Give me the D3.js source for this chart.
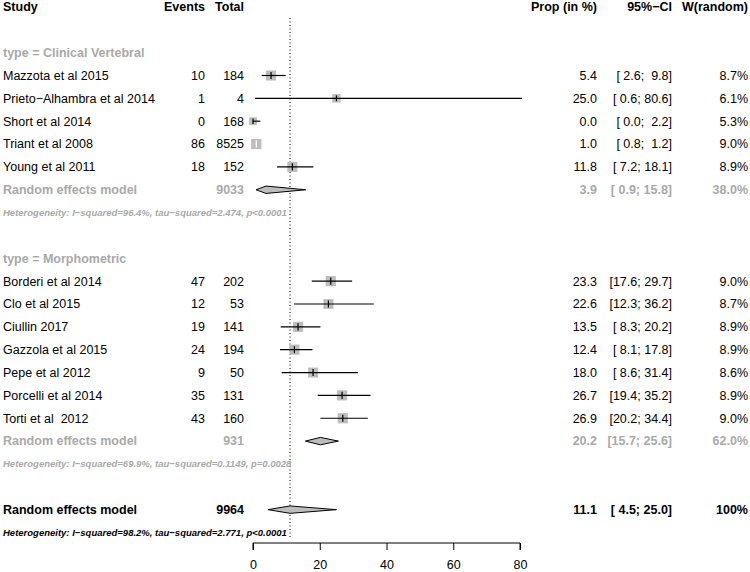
<!DOCTYPE html>
<html><head><meta charset="utf-8">
<script src="https://cdn.jsdelivr.net/npm/d3@7"></script>
<style>
html,body{margin:0;padding:0;background:#fff;}
svg text{font-family:"Liberation Sans",Arial,Helvetica,sans-serif;white-space:pre;}
</style></head>
<body>
<svg id="chart" width="750" height="572"></svg>
<script>
// ---- data ----
const groupLabels = ["type = Clinical Vertebral", "type = Morphometric"];
const studies = ["Mazzota et al 2015","Prieto\u2212Alhambra et al 2014","Short et al 2014","Triant et al 2008","Young et al 2011",
                 "Borderi et al 2014","Clo et al 2015","Ciullin 2017","Gazzola et al 2015","Pepe et al 2012","Porcelli et al 2014","Torti et al  2012"];
const studyGroup = [0,0,0,0,0,1,1,1,1,1,1,1];
const events = [10,1,0,86,18,47,12,19,24,9,35,43];
const totals = [184,4,168,8525,152,202,53,141,194,50,131,160];
const props  = [5.4,25.0,0.0,1.0,11.8,23.3,22.6,13.5,12.4,18.0,26.7,26.9];
const lowers = [2.6,0.6,0.0,0.8,7.2,17.6,12.3,8.3,8.1,8.6,19.4,20.2];
const uppers = [9.8,80.6,2.2,1.2,18.1,29.7,36.2,20.2,17.8,31.4,35.2,34.4];
const weights = [8.7,6.1,5.3,9.0,8.9,9.0,8.7,8.9,8.9,8.6,8.9,9.0];
const ciText = ["[ 2.6;  9.8]","[ 0.6; 80.6]","[ 0.0;  2.2]","[ 0.8;  1.2]","[ 7.2; 18.1]",
                "[17.6; 29.7]","[12.3; 36.2]","[ 8.3; 20.2]","[ 8.1; 17.8]","[ 8.6; 31.4]","[19.4; 35.2]","[20.2; 34.4]"];
// subgroup + overall random effects models
const poolLabels = ["Random effects model","Random effects model","Random effects model"];
const poolTotals = [9033, 931, 9964];
const poolProps  = [3.9, 20.2, 11.1];
const poolLowers = [0.9, 15.7, 4.5];
const poolUppers = [15.8, 25.6, 25.0];
const poolCI     = ["[ 0.9; 15.8]","[15.7; 25.6]","[ 4.5; 25.0]"];
const poolWeights = ["38.0%","62.0%","100%"];
const hetText = ["Heterogeneity: I\u2212squared=96.4%, tau\u2212squared=2.474, p<0.0001",
                 "Heterogeneity: I\u2212squared=69.9%, tau\u2212squared=0.1149, p=0.0028",
                 "Heterogeneity: I\u2212squared=98.2%, tau\u2212squared=2.771, p<0.0001"];
const xTicks = [0,20,40,60,80];
const headers = ["Study","Events","Total","Prop (in %)","95%\u2212CI","W(random)"];

// ---- layout ----
const svg = d3.select("#chart");
const grey = "#a9a9a9", boxFill = "#bdbdbd";
const fs = 12.5, fsHet = 9.5;
const x = d3.scaleLinear().domain([0,80]).range([253,520]);
const rowY = d3.scaleLinear().domain([0,1]).range([75.5, 75.5+22.85]);
const col = {study:3, events:205, total:244, prop:597, ci:672, w:748};

// row index assignment
const rows = [];
let r = -1;
groupLabels.forEach((g,gi)=>{
  rows.push({type:"group", gi, r:r}); r++;
  studies.forEach((s,i)=>{ if(studyGroup[i]===gi){ rows.push({type:"study", i, r}); r++; } });
  rows.push({type:"pool", pi:gi, r}); r++;
  rows.push({type:"het", pi:gi, r}); r++;
  r += 1; // blank
});
rows.push({type:"pool", pi:2, r:r}); r++;
rows.push({type:"het", pi:2, r:r});

// header
const hy = 6.5;
[[headers[0],col.study,"start"],[headers[1],col.events,"end"],[headers[2],col.total,"end"],
 [headers[3],col.prop,"end"],[headers[4],col.ci,"end"],[headers[5],col.w,"end"]].forEach(h=>{
  svg.append("text").attr("x",h[1]).attr("y",hy).attr("dy","0.35em").attr("text-anchor",h[2])
    .attr("font-size",fs).attr("font-weight","bold").text(h[0]);
});

// reference dotted line at overall estimate
svg.append("line").attr("x1",x(poolProps[2])).attr("x2",x(poolProps[2]))
  .attr("y1",18).attr("y2",537).attr("stroke","#000").attr("stroke-width",1).attr("stroke-dasharray","1,2.5");

function txt(xp, y, s, anchor, opts={}){
  return svg.append("text").attr("x",xp).attr("y",y).attr("dy","0.35em").attr("text-anchor",anchor)
    .attr("font-size",opts.size||fs).attr("font-weight",opts.bold?"bold":"normal")
    .attr("font-style",opts.italic?"italic":"normal").attr("fill",opts.fill||"#000").text(s);
}

rows.forEach(row=>{
  const y = rowY(row.r);
  if(row.type==="group"){
    txt(col.study,y,groupLabels[row.gi],"start",{bold:true,fill:grey});
  } else if(row.type==="study"){
    const i=row.i;
    txt(col.study,y,studies[i],"start");
    txt(col.events,y,String(events[i]),"end");
    txt(col.total,y,String(totals[i]),"end");
    txt(col.prop,y,props[i].toFixed(1),"end");
    txt(col.ci,y,ciText[i],"end");
    txt(col.w,y,weights[i].toFixed(1)+"%","end");
    const side = 3.4*Math.sqrt(weights[i]);
    const cx = x(props[i]);
    svg.append("rect").attr("x",cx-side/2).attr("y",y-side/2).attr("width",side).attr("height",side)
      .attr("fill",boxFill);
    const inside = x(lowers[i])>=cx-side/2 && x(uppers[i])<=cx+side/2;
    const lc = inside ? "#fff" : "#000";
    svg.append("line").attr("x1",x(lowers[i])).attr("x2",x(uppers[i])).attr("y1",y).attr("y2",y)
      .attr("stroke",lc).attr("stroke-width",1.2);
    svg.append("line").attr("x1",cx).attr("x2",cx).attr("y1",y-side*0.35).attr("y2",y+side*0.35)
      .attr("stroke",lc).attr("stroke-width",1.2);
  } else if(row.type==="pool"){
    const p=row.pi, overall = p===2;
    const f = overall ? "#000" : grey;
    txt(col.study,y,poolLabels[p],"start",{bold:true,fill:f});
    txt(col.total,y,String(poolTotals[p]),"end",{bold:true,fill:f});
    txt(col.prop,y,poolProps[p].toFixed(1),"end",{bold:true,fill:f});
    txt(col.ci,y,poolCI[p],"end",{bold:true,fill:f});
    txt(col.w,y,poolWeights[p],"end",{bold:true,fill:f});
    const h=3.7;
    const pts=[[x(poolLowers[p]),y],[x(poolProps[p]),y-h],[x(poolUppers[p]),y],[x(poolProps[p]),y+h]];
    svg.append("path").attr("d","M"+pts.map(d=>d.join(",")).join("L")+"Z")
      .attr("fill",boxFill).attr("stroke","#000").attr("stroke-width",1);
  } else if(row.type==="het"){
    const p=row.pi;
    txt(col.study,y,hetText[p],"start",{bold:true,italic:true,size:fsHet,fill:p===2?"#000":grey});
  }
});

// axis
const axisG = svg.append("g").attr("transform","translate(0,543)")
  .call(d3.axisBottom(x).tickValues(xTicks).tickSize(7).tickPadding(10).tickFormat(d3.format("d")));
axisG.select(".domain").attr("d",`M${x(0)},7V0H${x(80)}V7`).attr("stroke","#000");
axisG.selectAll(".tick line").attr("stroke","#000");
axisG.selectAll(".tick text").attr("font-size",fs).attr("fill","#000")
  .attr("font-family","Liberation Sans, Arial, sans-serif");
</script>
</body></html>
